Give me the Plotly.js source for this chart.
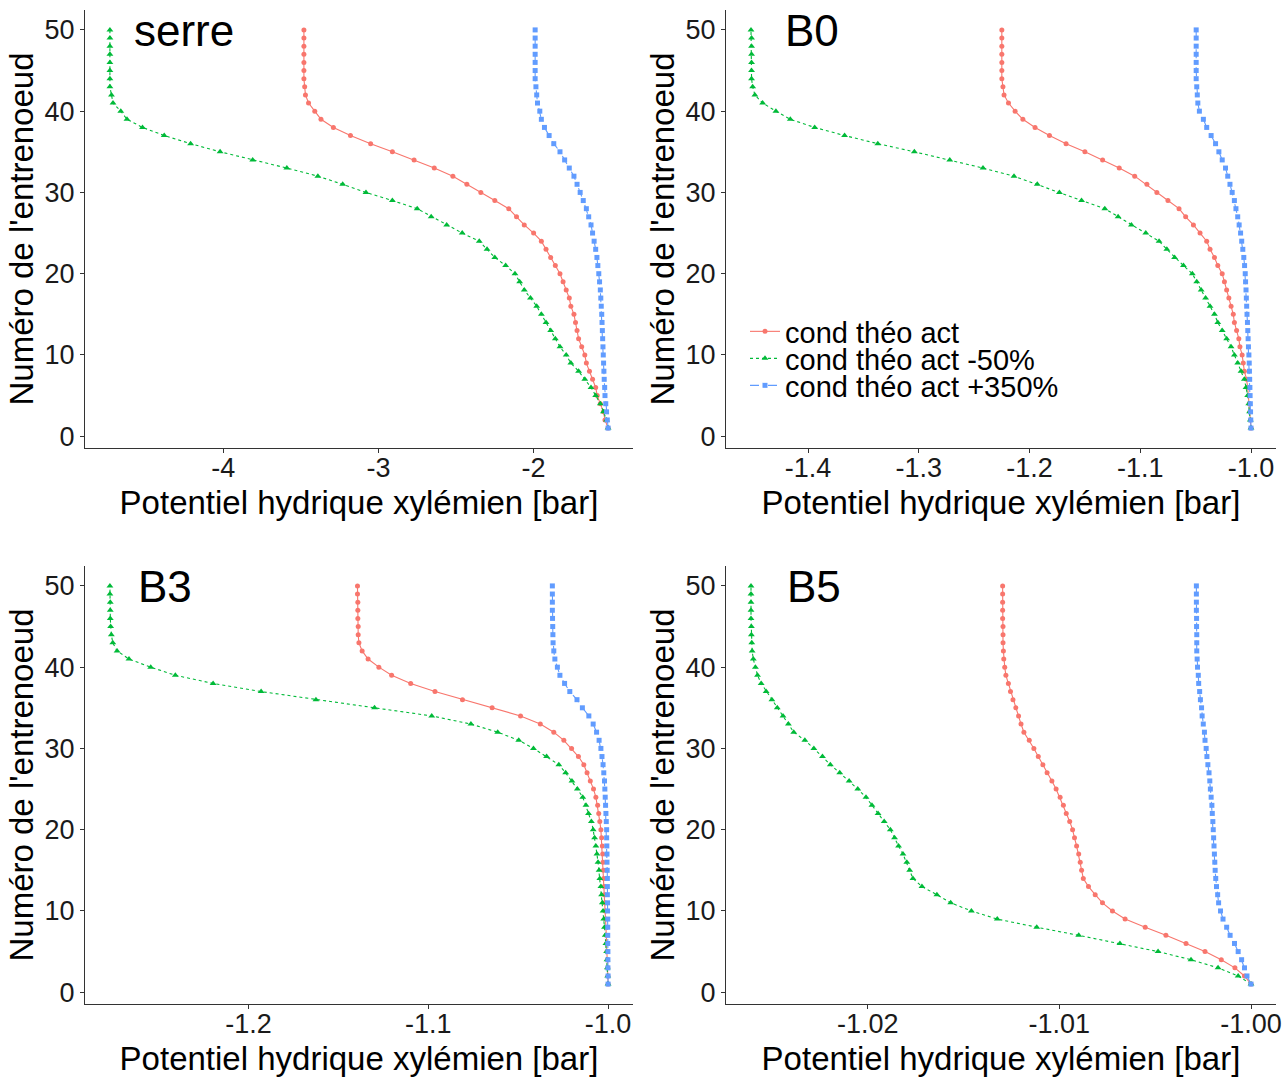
<!DOCTYPE html>
<html>
<head>
<meta charset="utf-8">
<script src="https://cdn.plot.ly/plotly-3.0.1.min.js"></script>
<style>
html,body{margin:0;padding:0;background:#fff;}
#chart{width:1287px;height:1080px;}
</style>
</head>
<body>
<div id="chart"></div>
<script>
// Internode number (y axis)
const internode = [1,2,3,4,5,6,7,8,9,10,11,12,13,14,15,16,17,18,19,20,21,22,23,24,25,26,27,28,29,30,31,32,33,34,35,36,37,38,39,40,41,42,43,44,45,46,47,48,49,50];

const seriesNames = ["cond théo act", "cond théo act -50%", "cond théo act +350%"];
const panelLabels = ["serre", "B0", "B3", "B5"];

// Panel "serre" (bar), internode 1..50
const serreAct = [-1.52,-1.54,-1.55,-1.57,-1.59,-1.60,-1.62,-1.64,-1.66,-1.67,-1.69,-1.71,-1.72,-1.73,-1.74,-1.76,-1.77,-1.79,-1.81,-1.83,-1.86,-1.89,-1.92,-1.95,-2.00,-2.06,-2.11,-2.16,-2.25,-2.34,-2.43,-2.52,-2.64,-2.77,-2.91,-3.05,-3.18,-3.29,-3.37,-3.41,-3.45,-3.47,-3.475,-3.48,-3.48,-3.48,-3.48,-3.48,-3.48,-3.48];
const serreM50 = [-1.52,-1.53,-1.55,-1.57,-1.60,-1.63,-1.67,-1.71,-1.76,-1.79,-1.83,-1.86,-1.89,-1.92,-1.95,-1.98,-2.02,-2.06,-2.09,-2.12,-2.18,-2.25,-2.30,-2.35,-2.46,-2.56,-2.66,-2.75,-2.91,-3.08,-3.23,-3.39,-3.59,-3.81,-4.02,-4.21,-4.38,-4.52,-4.62,-4.66,-4.71,-4.72,-4.73,-4.73,-4.73,-4.73,-4.73,-4.73,-4.73,-4.73];
const serreP350 = [-1.52,-1.525,-1.53,-1.535,-1.54,-1.542,-1.545,-1.547,-1.549,-1.551,-1.553,-1.555,-1.557,-1.559,-1.561,-1.564,-1.567,-1.570,-1.575,-1.580,-1.586,-1.592,-1.600,-1.610,-1.620,-1.630,-1.645,-1.660,-1.680,-1.700,-1.720,-1.740,-1.770,-1.800,-1.830,-1.870,-1.900,-1.930,-1.950,-1.960,-1.975,-1.980,-1.985,-1.99,-1.99,-1.99,-1.99,-1.99,-1.99,-1.99];

// Panel "B0"
const b0Act = [-1.000,-1.0005,-1.001,-1.0016,-1.002,-1.003,-1.004,-1.006,-1.007,-1.008,-1.010,-1.011,-1.013,-1.015,-1.016,-1.018,-1.020,-1.022,-1.024,-1.026,-1.030,-1.033,-1.037,-1.040,-1.046,-1.052,-1.059,-1.065,-1.075,-1.085,-1.094,-1.105,-1.119,-1.134,-1.150,-1.167,-1.182,-1.195,-1.206,-1.213,-1.219,-1.223,-1.224,-1.225,-1.225,-1.225,-1.225,-1.225,-1.225,-1.225];
const b0M50 = [-1.000,-1.0006,-1.0013,-1.002,-1.003,-1.0045,-1.006,-1.009,-1.012,-1.015,-1.018,-1.022,-1.026,-1.030,-1.033,-1.037,-1.041,-1.045,-1.049,-1.053,-1.061,-1.069,-1.076,-1.083,-1.095,-1.108,-1.120,-1.132,-1.153,-1.173,-1.193,-1.214,-1.242,-1.272,-1.304,-1.337,-1.367,-1.394,-1.416,-1.429,-1.441,-1.448,-1.450,-1.451,-1.451,-1.451,-1.451,-1.451,-1.451,-1.4515];
const b0P350 = [-1.0000,-1.0002,-1.0004,-1.0006,-1.0008,-1.0010,-1.0012,-1.0014,-1.0016,-1.0019,-1.0023,-1.0026,-1.0029,-1.0032,-1.0036,-1.0039,-1.0042,-1.0045,-1.0049,-1.0052,-1.0058,-1.0065,-1.0074,-1.0084,-1.0094,-1.0107,-1.0120,-1.0136,-1.0150,-1.0170,-1.0190,-1.0210,-1.0230,-1.0260,-1.0290,-1.0320,-1.0360,-1.0400,-1.0430,-1.0466,-1.0480,-1.0485,-1.0490,-1.0495,-1.0495,-1.0495,-1.0495,-1.0495,-1.0495,-1.0495];

// Panel "B3"
const b3Act = [-1.0000,-1.0001,-1.0002,-1.0004,-1.0006,-1.0008,-1.0010,-1.0012,-1.0014,-1.0016,-1.0018,-1.0020,-1.0022,-1.0024,-1.0026,-1.0028,-1.0030,-1.0032,-1.0036,-1.0040,-1.0046,-1.0052,-1.0058,-1.0068,-1.0081,-1.0099,-1.0117,-1.0135,-1.0165,-1.0203,-1.0246,-1.0302,-1.0377,-1.0487,-1.0645,-1.0810,-1.0963,-1.1098,-1.1204,-1.1275,-1.1335,-1.1368,-1.1386,-1.1390,-1.1390,-1.1392,-1.1392,-1.1392,-1.1394,-1.1394];
const b3M50 = [-1.0000,-1.0002,-1.0004,-1.0006,-1.0008,-1.0012,-1.0016,-1.0020,-1.0024,-1.0028,-1.0032,-1.0036,-1.0040,-1.0046,-1.0050,-1.0056,-1.0062,-1.0068,-1.0075,-1.0083,-1.0093,-1.0109,-1.0123,-1.0141,-1.0171,-1.0201,-1.0236,-1.0274,-1.0342,-1.0415,-1.0497,-1.0614,-1.0763,-1.0981,-1.1299,-1.1625,-1.1930,-1.2197,-1.2407,-1.2544,-1.2665,-1.2731,-1.2755,-1.2763,-1.2767,-1.2769,-1.2769,-1.2769,-1.2771,-1.2771];
const b3P350 = [-1.0000,-1.0000,-1.0001,-1.0001,-1.0001,-1.0002,-1.0002,-1.0002,-1.0002,-1.0003,-1.0003,-1.0004,-1.0004,-1.0004,-1.0005,-1.0006,-1.0006,-1.0007,-1.0008,-1.0008,-1.0010,-1.0012,-1.0014,-1.0016,-1.0018,-1.0020,-1.0024,-1.0028,-1.0034,-1.0040,-1.0050,-1.0064,-1.0083,-1.0107,-1.0143,-1.0173,-1.0213,-1.0242,-1.0268,-1.0282,-1.0296,-1.0302,-1.0306,-1.0307,-1.0308,-1.0309,-1.0310,-1.0310,-1.0310,-1.0310];

// Panel "B5"
const b5Act = [-1.00000,-1.00034,-1.00084,-1.00155,-1.00240,-1.00339,-1.00444,-1.00552,-1.00657,-1.00723,-1.00775,-1.00813,-1.00848,-1.00875,-1.00884,-1.00891,-1.00899,-1.00910,-1.00921,-1.00931,-1.00946,-1.00964,-1.00979,-1.00996,-1.01017,-1.01039,-1.01064,-1.01086,-1.01110,-1.01133,-1.01157,-1.01185,-1.01200,-1.01213,-1.01227,-1.01242,-1.01255,-1.01266,-1.01279,-1.01285,-1.01290,-1.01292,-1.01294,-1.01294,-1.01294,-1.01296,-1.01296,-1.01296,-1.01296,-1.01296];
const b5M50 = [-1.00000,-1.00067,-1.00172,-1.00313,-1.00485,-1.00684,-1.00899,-1.01118,-1.01324,-1.01459,-1.01567,-1.01639,-1.01717,-1.01764,-1.01781,-1.01796,-1.01816,-1.01839,-1.01860,-1.01882,-1.01914,-1.01946,-1.01978,-1.02009,-1.02052,-1.02097,-1.02146,-1.02195,-1.02236,-1.02281,-1.02328,-1.02386,-1.02414,-1.02442,-1.02472,-1.02500,-1.02530,-1.02556,-1.02575,-1.02586,-1.02597,-1.02603,-1.02605,-1.02607,-1.02607,-1.02609,-1.02609,-1.02609,-1.02609,-1.02609];
const b5P350 = [-1.00000,-1.00021,-1.00034,-1.00049,-1.00067,-1.00086,-1.00109,-1.00127,-1.00146,-1.00159,-1.00169,-1.00174,-1.00180,-1.00184,-1.00187,-1.00189,-1.00191,-1.00193,-1.00195,-1.00197,-1.00199,-1.00202,-1.00204,-1.00208,-1.00212,-1.00215,-1.00219,-1.00225,-1.00230,-1.00234,-1.00240,-1.00243,-1.00249,-1.00255,-1.00258,-1.00264,-1.00268,-1.00273,-1.00275,-1.00279,-1.00281,-1.00283,-1.00283,-1.00283,-1.00284,-1.00284,-1.00285,-1.00285,-1.00285,-1.00285];

// Tick labels
const yTickVals = [0,10,20,30,40,50];
const yTickText = ["0","10","20","30","40","50"];
const serreTickVals = [-4,-3,-2];
const serreTickText = ["-4","-3","-2"];
const b0TickVals = [-1.4,-1.3,-1.2,-1.1,-1.0];
const b0TickText = ["-1.4","-1.3","-1.2","-1.1","-1.0"];
const b3TickVals = [-1.2,-1.1,-1.0];
const b3TickText = ["-1.2","-1.1","-1.0"];
const b5TickVals = [-1.02,-1.01,-1.00];
const b5TickText = ["-1.02","-1.01","-1.00"];

const xTitle = "Potentiel hydrique xylémien [bar]";
const yTitle = "Numéro de l'entrenoeud";

// ---- styling & building ----
const FONT = "Liberation Sans, Arial, Helvetica, sans-serif";
const colors = ["#F8766D", "#00BA38", "#619CFF"];
const dashes = ["solid", "dot", "dash"];
const symbols = ["circle", "triangle-up", "square"];
const msizes = [5, 6, 5];

const panels = [
  {series:[serreAct, serreM50, serreP350], tv:serreTickVals, tt:serreTickText},
  {series:[b0Act, b0M50, b0P350], tv:b0TickVals, tt:b0TickText},
  {series:[b3Act, b3M50, b3P350], tv:b3TickVals, tt:b3TickText},
  {series:[b5Act, b5M50, b5P350], tv:b5TickVals, tt:b5TickText}
];

const colDom = [[85/1287, 633/1287], [726/1287, 1276/1287]];
const rowDom = [[1-448/1080, 1-10/1080], [1-1004/1080, 1-566/1080]];

function xRange(arrs){
  let mn = Infinity, mx = -Infinity;
  arrs.forEach(a => a.forEach(v => { if (v<mn) mn=v; if (v>mx) mx=v; }));
  const pad = (mx-mn)*0.05;
  return [mn-pad, mx+pad];
}

const traces = [];
const layout = {
  width: 1287, height: 1080,
  margin: {l:0, r:0, t:0, b:0},
  paper_bgcolor: "#fff", plot_bgcolor: "#fff",
  font: {family: FONT, color: "#000"},
  showlegend: true,
  annotations: []
};

const legendNames = ["legend", "legend2", "legend3"];
const legendTop = [306, 333, 360];

panels.forEach((p, i) => {
  const xa = i===0 ? "x" : "x"+(i+1);
  const ya = i===0 ? "y" : "y"+(i+1);
  p.series.forEach((vals, s) => {
    const tr = {
      type: "scatter", mode: "lines+markers",
      x: vals, y: internode,
      xaxis: xa, yaxis: ya,
      name: seriesNames[s],
      line: {color: colors[s], width: 1.1, dash: dashes[s]},
      marker: {color: colors[s], symbol: symbols[s], size: msizes[s]},
      showlegend: i===1,
      hoverinfo: "x+y"
    };
    if (i===1) tr.legend = legendNames[s];
    traces.push(tr);
  });
  const col = i % 2, row = Math.floor(i/2);
  const axBase = {
    showline: true, linecolor: "#333", linewidth: 1.1,
    ticks: "outside", ticklen: 4, tickwidth: 1, tickcolor: "#333",
    showgrid: false, zeroline: false,
    tickfont: {family: FONT, size: 27, color: "#1a1a1a"}
  };
  layout["xaxis" + (i===0 ? "" : i+1)] = Object.assign({}, axBase, {
    domain: colDom[col], anchor: ya,
    range: xRange(p.series),
    tickmode: "array", tickvals: p.tv, ticktext: p.tt,
    ticklabelstandoff: -9,
    title: {text: xTitle, font: {family: FONT, size: 33, color: "#000"}, standoff: 9}
  });
  layout["yaxis" + (i===0 ? "" : i+1)] = Object.assign({}, axBase, {
    domain: rowDom[row], anchor: xa,
    range: [1-49*0.05, 50+49*0.05],
    tickmode: "array", tickvals: yTickVals, ticktext: yTickText,
    title: {text: yTitle, font: {family: FONT, size: 33, color: "#000"}, standoff: 0}
  });
  const labX = [0.086, 0.104, 0.093, 0.107][i];
  layout.annotations.push({
    text: panelLabels[i], showarrow: false,
    xref: xa + " domain", yref: ya, x: labX, y: 49.9,
    xanchor: "left", yanchor: "middle",
    font: {family: FONT, size: 44, color: "#000"}
  });
});

legendNames.forEach((ln, k) => {
  layout[ln] = {
    x: 745/1287, y: 1 - legendTop[k]/1080, xanchor: "left", yanchor: "top",
    bgcolor: "rgba(0,0,0,0)", borderwidth: 0,
    font: {family: FONT, size: 29, color: "#000"},
    itemwidth: 30, tracegroupgap: 0
  };
});

Plotly.newPlot("chart", traces, layout, {displayModeBar: false, staticPlot: true});
</script>
</body>
</html>
